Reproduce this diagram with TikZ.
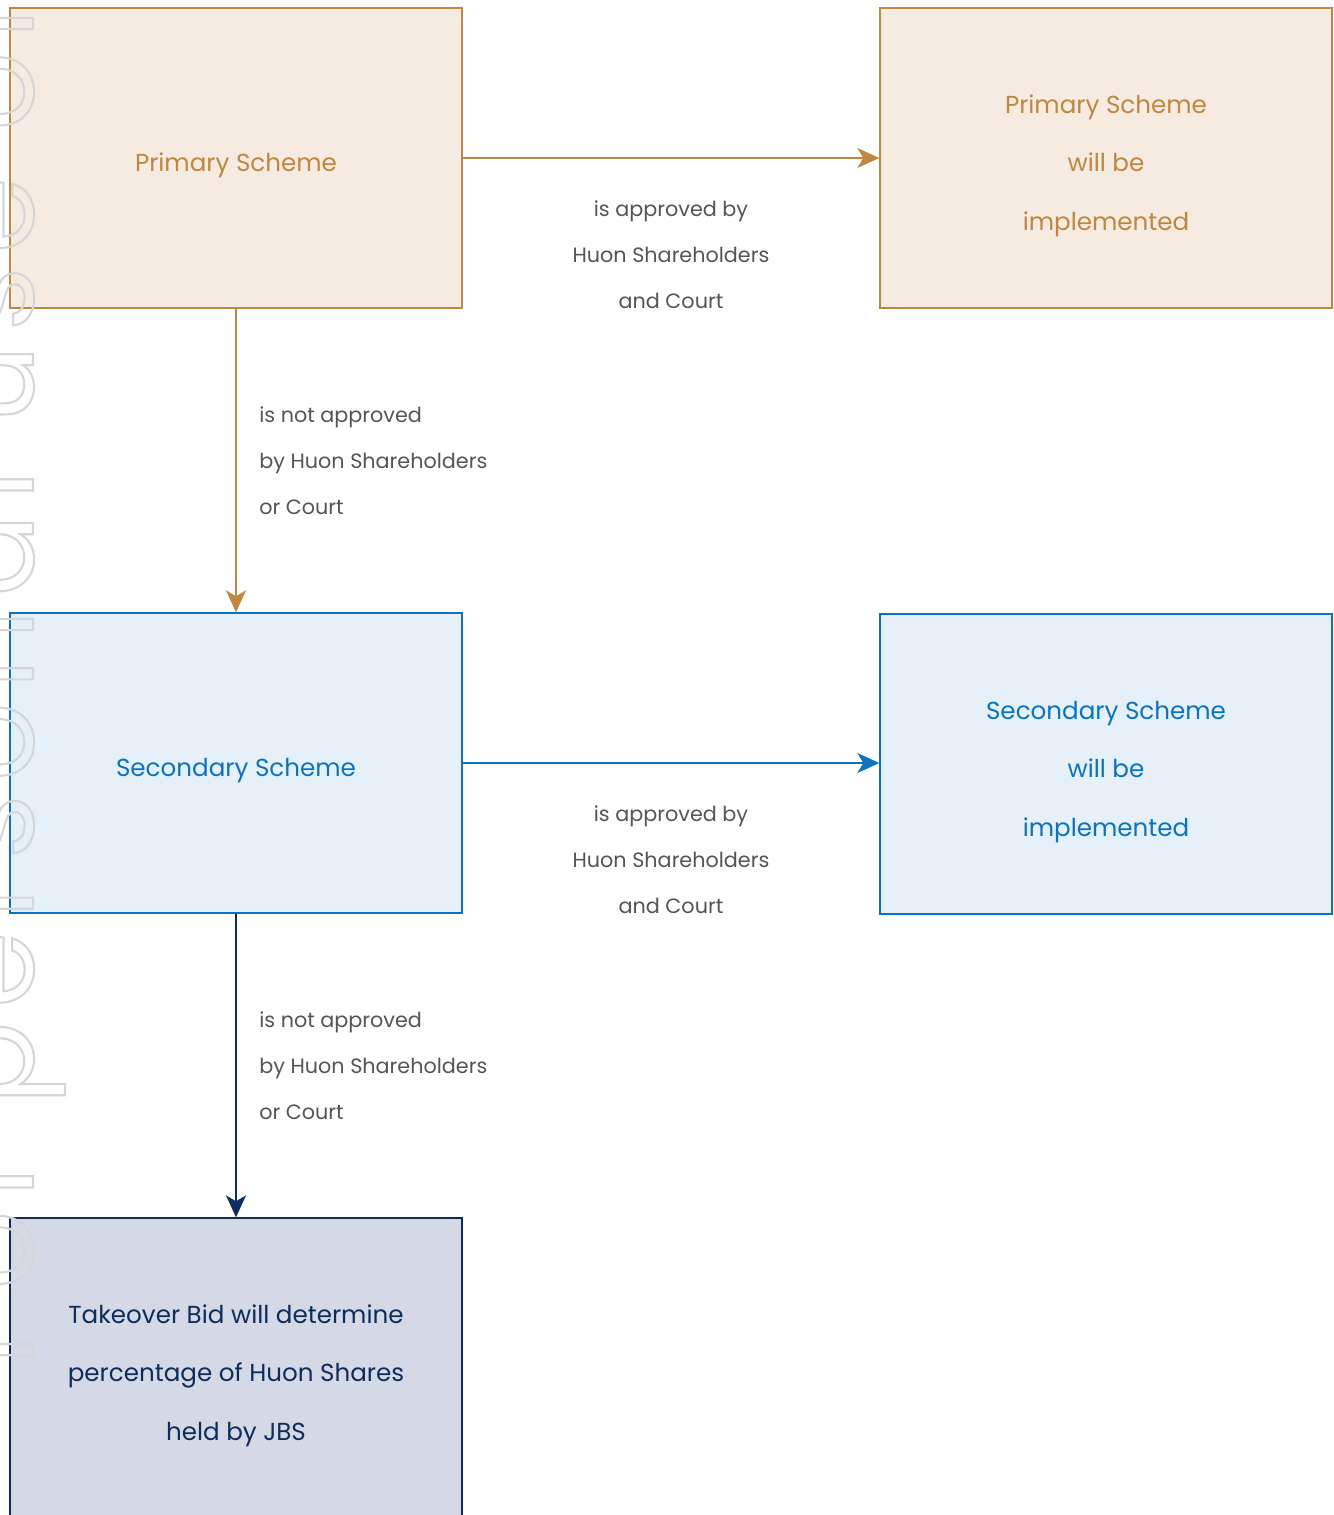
\documentclass[tikz,border=0pt]{standalone}
\usepackage{fontspec}
\setmainfont{Poppins}
\newfontfamily\markfont[LetterSpace=11]{Poppins}
\usetikzlibrary{arrows.meta}

\definecolor{primline}{HTML}{C0873F}
\definecolor{primfill}{HTML}{F5EBE1}
\definecolor{secline}{HTML}{0B74C2}
\definecolor{secfill}{HTML}{E5F0F8}
\definecolor{bidline}{HTML}{0D2D5C}
\definecolor{bidfill}{HTML}{D4D9E5}
\definecolor{labelgray}{HTML}{555555}
\definecolor{markgray}{HTML}{D6D6D6}

\newcommand\boxstrut{\rule{0pt}{21.5pt}}

\tikzset{
  schemebox/.style={draw, line width=0.8pt, minimum width=9.04cm, minimum height=6cm,
    align=center, inner sep=0pt, font=\fontsize{14}{33.5}\selectfont,
    execute at end node={\rule[-5.7pt]{0pt}{0pt}}},
  approvelabel/.style={text=labelgray, inner sep=0pt, font=\fontsize{11.8}{26.2}\selectfont},
  flow/.style={line width=0.8pt, -{Stealth[length=0.44cm, width=0.4cm, inset=0.12cm]}}
}

\begin{document}
\begin{tikzpicture}[x=0.02cm, y=-0.02cm]
\useasboundingbox (0,0) rectangle (1333,1515);

            % boxes
            \node[schemebox, draw=primline, fill=primfill, text=primline] (prim) at (236,158) {\boxstrut Primary Scheme};
            \node[schemebox, draw=primline, fill=primfill, text=primline] (primdone) at (1106,158) {\boxstrut Primary Scheme\\will be\\implemented};
            \node[schemebox, draw=secline, fill=secfill, text=secline] (sec) at (236,763) {\boxstrut Secondary Scheme};
            \node[schemebox, draw=secline, fill=secfill, text=secline] (secdone) at (1106,764) {\boxstrut Secondary Scheme\\will be\\implemented};
            \node[schemebox, draw=bidline, fill=bidfill, text=bidline] (bid) at (236,1368) {\boxstrut Takeover Bid will determine\\percentage of Huon Shares\\held by JBS};

            % connectors
            \draw[flow, primline] (prim.east) -- (primdone.west);
            \draw[flow, primline] (prim.south) -- (sec.north);
            \draw[flow, secline] (sec.east) -- (sec.east -| secdone.west);
            \draw[flow, bidline] (sec.south) -- (bid.north);

            % labels
            \node[approvelabel, align=center] (primyes) at (671,255) {is approved by\\Huon Shareholders\\and Court};
            \node[approvelabel, align=left, anchor=west] (primno) at (259,461) {is not approved\\by Huon Shareholders\\or Court};
            \node[approvelabel, align=center] (secyes) at (671,860) {is approved by\\Huon Shareholders\\and Court};
            \node[approvelabel, align=left, anchor=west] (secno) at (259,1066) {is not approved\\by Huon Shareholders\\or Court};

            % watermark
            \node[rotate=90, anchor=base west, inner sep=0pt, text=markgray,
                  font=\fontsize{70}{70}\markfont] (mark) at (33,1365)
                  {\special{pdf:literal direct 1 Tr 1.2 w}For personal use only\special{pdf:literal direct 0 Tr}};
\end{tikzpicture}
\end{document}
